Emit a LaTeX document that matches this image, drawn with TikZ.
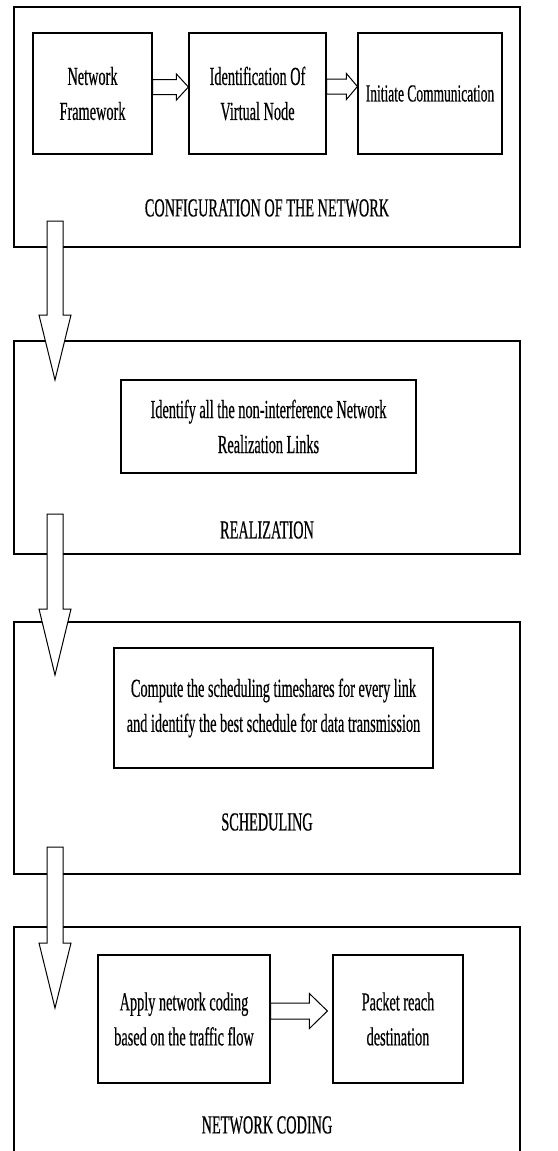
\documentclass[tikz,border=0pt]{standalone}
\usepackage{fontspec}
\setmainfont[FakeStretch=0.55, FakeBold=0.4]{Liberation Serif}
\usetikzlibrary{calc}

\tikzset{
  frame/.style={draw, line width=1.2pt, minimum width=506pt},
  stepbox/.style={draw, line width=1.2pt, align=center, inner sep=0pt},
  blockarrow/.style n args={3}{draw, fill=white, line width=1pt, to path={
      let \p1=(\tikztostart), \p2=(\tikztotarget),
          \n1={atan2(\y2-\y1,\x2-\x1)}, \n2={veclen(\x2-\x1,\y2-\y1)} in
      [shift={(\p1)}, rotate=\n1]
      (0pt,#1) -- ({\n2*1pt-#3},#1) -- ({\n2*1pt-#3},#2) -- ({\n2*1pt},0pt)
      -- ({\n2*1pt-#3},-#2) -- ({\n2*1pt-#3},-#1) -- (0pt,-#1) -- cycle}},
}

\begin{document}
\begin{tikzpicture}[x=1pt, y=-1pt, every node/.style={font=\fontsize{26}{35}\selectfont}]
  \useasboundingbox (0,0) rectangle (557,1151);

  % Bloques principales
  \node[frame, minimum height=240pt] (config) at (267,127) {};
  \node[frame, minimum height=213pt] (realiz) at (267,447.5) {};
  \node[frame, minimum height=252pt] (sched) at (267,748) {};
  \node[frame, minimum height=228pt] (coding) at (267,1041) {};

  % Configuracion de la red
  \node[stepbox, minimum width=119pt, minimum height=121pt] (nf) at (92.5,93.5) {Network\\Framework};
  \node[stepbox, minimum width=137pt, minimum height=121pt] (ivn) at (257.5,93.5) {Identification Of\\Virtual Node};
  \node[stepbox, minimum width=144pt, minimum height=121pt, font=\fontsize{24.5}{35}\selectfont] (ic) at (430,93.5) {Initiate Communication};
  \node (configlbl) at (267,208) {CONFIGURATION OF THE NETWORK};
  \draw[blockarrow={7.5pt}{13pt}{12pt}] ([yshift=6.5pt]nf.east) to ([yshift=6.5pt]ivn.west);
  \draw[blockarrow={7.5pt}{13pt}{11pt}] ([yshift=7pt]ivn.east) to ([yshift=7pt]ic.west);

  % Realizacion
  \node[stepbox, minimum width=295pt, minimum height=93pt] (links) at (268.5,426.5) {Identify all the non-interference Network\\Realization Links};
  \node (realizlbl) at (267,530) {REALIZATION};

  % Planificacion
  \node[stepbox, minimum width=319pt, minimum height=120pt] (share) at (273.5,708) {Compute the scheduling timeshares for every link\\and identify the best schedule for data transmission};
  \node (schedlbl) at (267,822) {SCHEDULING};

  % Codificacion de red
  \node[stepbox, minimum width=172pt, minimum height=128pt] (anc) at (184,1019) {Apply network coding\\based on the traffic flow};
  \node[stepbox, minimum width=130pt, minimum height=128pt] (prd) at (398,1019) {Packet reach\\destination};
  \node (codinglbl) at (267,1125) {NETWORK CODING};
  \draw[blockarrow={8pt}{17.5pt}{18pt}] ([yshift=8pt]anc.east) to ([xshift=-5pt,yshift=8pt]prd.west);

  % Flechas entre bloques
  \coordinate (d1top) at (55,221);
  \coordinate (d1tip) at (55,380);
  \coordinate (d2top) at (55,514);
  \coordinate (d2tip) at (55,675);
  \coordinate (d3top) at (55,847);
  \coordinate (d3tip) at (55,1008);
  \draw[blockarrow={8pt}{16pt}{65pt}] (d1top) to (d1tip);
  \draw[blockarrow={8pt}{16pt}{66pt}] (d2top) to (d2tip);
  \draw[blockarrow={8pt}{16pt}{65pt}] (d3top) to (d3tip);
\end{tikzpicture}
\end{document}
